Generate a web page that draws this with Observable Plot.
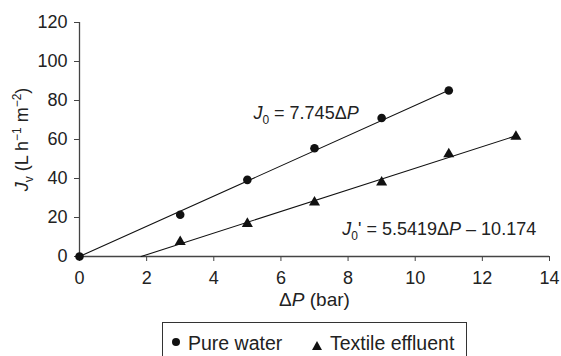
<!DOCTYPE html>
<html>
<head>
<meta charset="utf-8">
<script src="https://cdn.jsdelivr.net/npm/d3@7"></script>
<script src="https://cdn.jsdelivr.net/npm/@observablehq/plot@0.6"></script>
<style>
  html, body { margin: 0; padding: 0; background: #fff; }
  #wrap { position: relative; width: 561px; height: 356px; overflow: hidden; font-family: "Liberation Sans", Arial, sans-serif; color: #222; }
  #legend { position: absolute; left: 162px; top: 322px; width: 305px; height: 44px; border: 1px solid #333; box-sizing: border-box; font-size: 19.5px; line-height: 19.5px; }
  #legend .lbl { position: absolute; top: 10.5px; white-space: nowrap; }
  #legend .dot { position: absolute; left: 9px; top: 15px; width: 8px; height: 8px; border-radius: 50%; background: #111; }
  #legend .tri { position: absolute; left: 149px; top: 18px; width: 0; height: 0; border-left: 5px solid transparent; border-right: 5px solid transparent; border-bottom: 9px solid #111; }
</style>
</head>
<body>
<div id="wrap"></div>
<script>
// ---- data ----
const pressurePure = [0, 3, 5, 7, 9, 11];
const fluxPure = [0, 21.4, 39.3, 55.5, 71, 85.1];
const pressureTextile = [3, 5, 7, 9, 11, 13];
const fluxTextile = [7.5, 16.8, 27.8, 38, 52.5, 61.5];
const fitPure = {slope: 7.745, intercept: 0};
const fitTextile = {slope: 5.5419, intercept: -10.174};
const xTicks = [0, 2, 4, 6, 8, 10, 12, 14];
const yTicks = [0, 20, 40, 60, 80, 100, 120];
const seriesNames = ["Pure water", "Textile effluent"];

const pure = pressurePure.map((p, i) => ({p, j: fluxPure[i]}));
const textile = pressureTextile.map((p, i) => ({p, j: fluxTextile[i]}));
const linePure = [
  {p: d3.min(pressurePure), j: fitPure.slope * d3.min(pressurePure) + fitPure.intercept},
  {p: d3.max(pressurePure), j: fitPure.slope * d3.max(pressurePure) + fitPure.intercept}
];
const p0 = -fitTextile.intercept / fitTextile.slope;
const lineTextile = [
  {p: p0, j: 0},
  {p: d3.max(pressureTextile), j: fitTextile.slope * d3.max(pressureTextile) + fitTextile.intercept}
];

const FONT = "Liberation Sans, Arial, sans-serif";
const INK = "#111";
const AXIS = "#444";

const chart = Plot.plot({
  width: 561,
  height: 316,
  marginLeft: 79,
  marginRight: 12,
  marginTop: 22,
  marginBottom: 60,
  style: {fontFamily: FONT, fontSize: "18px", color: "#222", background: "#fff"},
  x: {domain: [0, 14]},
  y: {domain: [0, 120]},
  marks: [
    Plot.axisX({ticks: xTicks, tickSize: 5, tickPadding: 10, label: null, stroke: AXIS, fill: "#222"}),
    Plot.axisY({ticks: yTicks, tickSize: 5, tickPadding: 7, label: null, stroke: AXIS, fill: "#222"}),
    Plot.ruleY([0], {stroke: AXIS, strokeWidth: 1.3}),
    Plot.ruleX([0], {stroke: AXIS, strokeWidth: 1.3}),
    Plot.line(linePure, {x: "p", y: "j", stroke: INK, strokeWidth: 1.1}),
    Plot.line(lineTextile, {x: "p", y: "j", stroke: INK, strokeWidth: 1.1}),
    Plot.dot(pure, {x: "p", y: "j", symbol: "circle", r: 4.3, fill: INK, stroke: "none"}),
    Plot.dot(textile, {x: "p", y: "j", symbol: "triangle", r: 4.1, fill: INK, stroke: "none"}),
    Plot.text(["@pure"], {x: 5.18, y: 73.3, textAnchor: "start", lineAnchor: "middle", fill: "#222", fontSize: 18}),
    Plot.text(["@textile"], {x: 7.83, y: 13.8, textAnchor: "start", lineAnchor: "middle", fill: "#222", fontSize: 18}),
    Plot.text(["@xlabel"], {frameAnchor: "bottom", dy: 43, textAnchor: "middle", lineAnchor: "middle", fill: "#222", fontSize: 19}),
    Plot.text(["@ylabel"], {frameAnchor: "left", dx: -57, rotate: -90, textAnchor: "middle", lineAnchor: "middle", fill: "#222", fontSize: 18})
  ]
});

const rich = {
  "@pure": [{t: "J", i: 1}, {t: "0", sub: 1}, {t: " = 7.745Δ"}, {t: "P", i: 1}],
  "@textile": [{t: "J", i: 1}, {t: "0", sub: 1}, {t: "' = 5.5419Δ"}, {t: "P", i: 1}, {t: " – 10.174"}],
  "@xlabel": [{t: "Δ"}, {t: "P", i: 1}, {t: " (bar)"}],
  "@ylabel": [{t: "J", i: 1}, {t: "v", sub: 1}, {t: " (L h"}, {t: "−1", sup: 1}, {t: " m"}, {t: "−2", sup: 1}, {t: ")"}]
};
d3.select(chart).selectAll("text").each(function() {
  const key = this.textContent;
  if (!rich[key]) return;
  const el = d3.select(this);
  el.text(null);
  let shift = 0;
  for (const part of rich[key]) {
    const ts = el.append("tspan").text(part.t);
    let target = 0;
    if (part.sub) target = 5;
    if (part.sup) target = -7;
    if (target !== shift) { ts.attr("dy", target - shift); shift = target; }
    if (part.sub || part.sup) ts.attr("font-size", "12px");
    if (part.i) ts.attr("font-style", "italic");
  }
});

const wrap = document.getElementById("wrap");
wrap.appendChild(chart);
const legend = document.createElement("div");
legend.id = "legend";
legend.innerHTML =
  '<div class="dot"></div><span class="lbl" style="left:25px">' + seriesNames[0] + '</span>' +
  '<div class="tri"></div><span class="lbl" style="left:167px">' + seriesNames[1] + '</span>';
wrap.appendChild(legend);
</script>
</body>
</html>
